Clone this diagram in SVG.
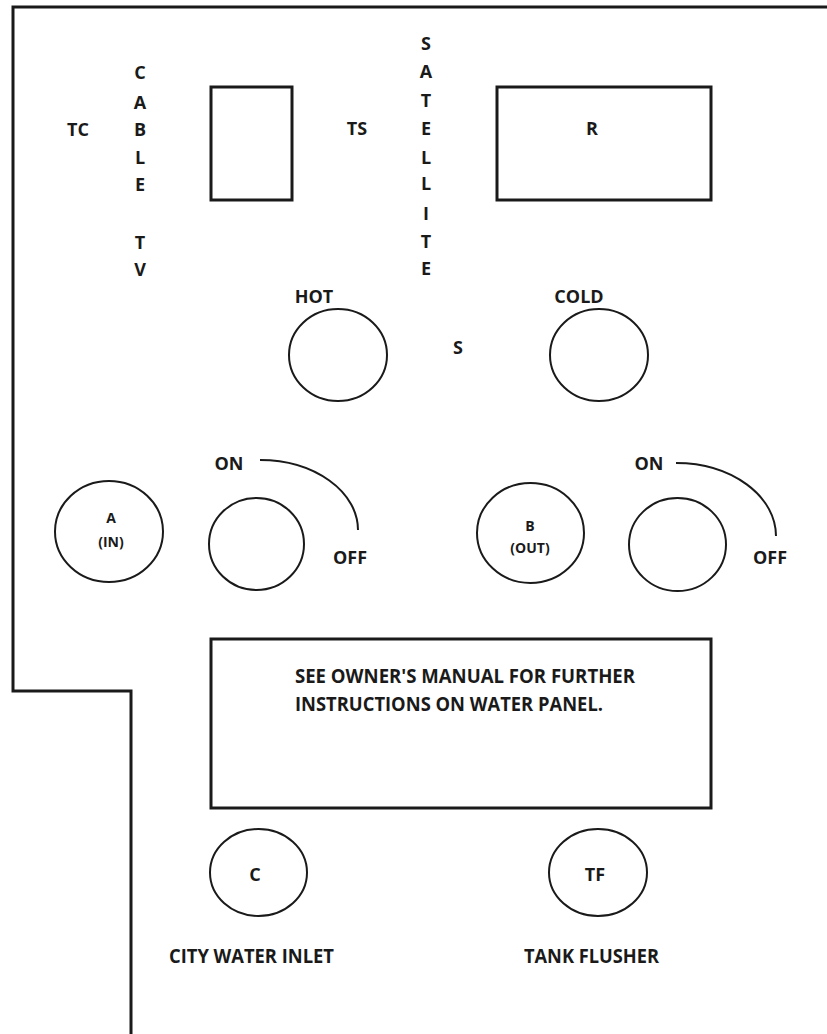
<svg xmlns="http://www.w3.org/2000/svg" width="827" height="1034" viewBox="0 0 827 1034">
<style>
  .bg{fill:#ffffff}
  .border{fill:none;stroke:#1a1a1a;stroke-width:3}
  .box{fill:none;stroke:#1a1a1a;stroke-width:3}
  .knob{fill:none;stroke:#1a1a1a;stroke-width:2}
  .arc{fill:none;stroke:#1a1a1a;stroke-width:2}
  text{font-family:"Open Sans","Liberation Sans",sans-serif;font-weight:bold;fill:#1a1a1a}
  .lbl{font-size:18px;text-anchor:middle}
  .sm{font-size:14px;text-anchor:middle}
  .big{font-size:19px}
</style>
<rect class="bg" x="0" y="0" width="827" height="1034"/>
<g id="outline">
  <path class="border" d="M827,7 H13 V691 H131 V1034"/>
</g>
<g id="cable-tv">
  <rect class="box" x="211" y="87" width="81" height="113"/>
  <text class="lbl" x="78" y="136">TC</text>
  <text class="lbl" x="140" y="79">C</text>
  <text class="lbl" x="140" y="109">A</text>
  <text class="lbl" x="140" y="136">B</text>
  <text class="lbl" x="140" y="164">L</text>
  <text class="lbl" x="140" y="191">E</text>
  <text class="lbl" x="140" y="249">T</text>
  <text class="lbl" x="140" y="276">V</text>
</g>
<g id="satellite">
  <text class="lbl" x="357" y="135">TS</text>
  <text class="lbl" x="426" y="50">S</text>
  <text class="lbl" x="426" y="78">A</text>
  <text class="lbl" x="426" y="107">T</text>
  <text class="lbl" x="426" y="135">E</text>
  <text class="lbl" x="426" y="164">L</text>
  <text class="lbl" x="426" y="190">L</text>
  <text class="lbl" x="426" y="220">I</text>
  <text class="lbl" x="426" y="248">T</text>
  <text class="lbl" x="426" y="275">E</text>
</g>
<g id="r-box">
  <rect class="box" x="497" y="87" width="214" height="113"/>
  <text class="lbl" x="592" y="135">R</text>
</g>
<g id="hot">
  <ellipse class="knob" cx="338" cy="355" rx="49" ry="46"/>
  <text class="lbl" x="314" y="303">HOT</text>
</g>
<g id="s-label">
  <text class="lbl" x="458" y="354">S</text>
</g>
<g id="cold">
  <ellipse class="knob" cx="599" cy="355" rx="49" ry="46"/>
  <text class="lbl" x="579" y="303">COLD</text>
</g>
<g id="valve-a">
  <ellipse class="knob" cx="109" cy="531.5" rx="54" ry="50.5"/>
  <text class="sm" x="111" y="523">A</text>
  <text class="sm" x="111" y="547">(IN)</text>
</g>
<g id="switch-a">
  <ellipse class="knob" cx="256.5" cy="544" rx="47.5" ry="46"/>
  <text class="lbl" x="229" y="470">ON</text>
  <text class="lbl" x="350" y="564">OFF</text>
</g>
<g id="valve-b">
  <ellipse class="knob" cx="530.5" cy="533" rx="53.5" ry="50"/>
  <text class="sm" x="530" y="531">B</text>
  <text class="sm" x="530" y="553">(OUT)</text>
</g>
<g id="switch-b">
  <ellipse class="knob" cx="677.5" cy="544.5" rx="48.5" ry="46.5"/>
  <text class="lbl" x="649" y="470">ON</text>
  <text class="lbl" x="770" y="564">OFF</text>
</g>
<g id="connectors">
  <path class="arc" d="M260,460 A98 70 0 0 1 358,530"/>
  <path class="arc" d="M676,463 A100 73 0 0 1 776,536"/>
</g>
<g id="instructions">
  <rect class="box" x="211" y="639" width="500" height="169"/>
  <text class="big" x="295" y="683" textLength="340" lengthAdjust="spacingAndGlyphs">SEE OWNER'S MANUAL FOR FURTHER</text>
  <text class="big" x="295" y="711" textLength="308" lengthAdjust="spacingAndGlyphs">INSTRUCTIONS ON WATER PANEL.</text>
</g>
<g id="city-water">
  <ellipse class="knob" cx="258.5" cy="872.5" rx="48.5" ry="43.5"/>
  <text class="lbl" x="255" y="881">C</text>
  <text class="big" x="169" y="963" textLength="165" lengthAdjust="spacingAndGlyphs">CITY WATER INLET</text>
</g>
<g id="tank-flusher">
  <ellipse class="knob" cx="598" cy="872.5" rx="49" ry="43.5"/>
  <text class="lbl" x="595" y="881">TF</text>
  <text class="big" x="524" y="963" textLength="135" lengthAdjust="spacingAndGlyphs">TANK FLUSHER</text>
</g>
</svg>
